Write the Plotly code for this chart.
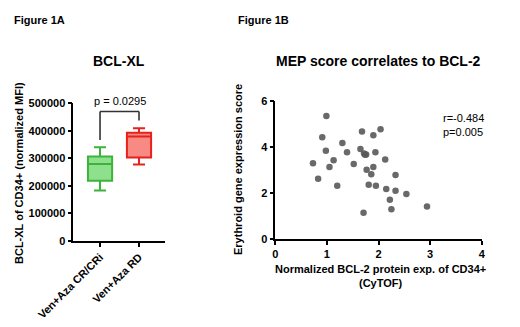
import plotly.graph_objects as go

# ---- Data: Figure 1A (box plot) ----
groups = ["Ven+Aza CR/CRi", "Ven+Aza RD"]
lower_whisker = [183000, 277000]
q1_vals = [218000, 303000]
median_vals = [279000, 379000]
q3_vals = [306000, 393000]
upper_whisker = [340000, 409000]
box_fill = ["#8fe08c", "#f78a82"]
box_line = ["#3cb43c", "#e8211c"]
p_text = "p = 0.0295"

# ---- Data: Figure 1B (scatter) ----
bcl2_x = [0.73, 0.83, 0.91, 0.99, 0.98, 1.05, 1.13, 1.20, 1.30, 1.39, 1.52,
          1.65, 1.68, 1.72, 1.76, 1.77, 1.81, 1.86, 1.71, 1.90, 1.90, 1.94,
          1.95, 2.04, 2.13, 2.15, 2.33, 2.33, 2.22, 2.25, 2.54, 2.94, 1.74]
ery_y = [3.29, 2.62, 4.42, 5.35, 3.84, 3.13, 3.42, 2.32, 4.17, 3.77, 3.26,
         3.91, 4.67, 3.72, 3.67, 3.01, 2.36, 2.81, 1.14, 4.51, 3.13, 3.77,
         2.32, 4.77, 3.46, 2.17, 2.78, 2.10, 1.71, 1.29, 1.96, 1.41, 3.66]
stat_text = "r=-0.484<br>p=0.005"

FONT = "Arial, Liberation Sans, sans-serif"
W, H = 520, 327
OFF = 8  # page body margin offset

def px_x(p):
    return (p - OFF) / W

def px_y(p):
    return 1 - (p - OFF) / H

fig = go.Figure()

for i, g in enumerate(groups):
    fig.add_trace(go.Box(
        x=[g], q1=[q1_vals[i]], median=[median_vals[i]], q3=[q3_vals[i]],
        lowerfence=[lower_whisker[i]], upperfence=[upper_whisker[i]],
        fillcolor=box_fill[i], line=dict(color=box_line[i], width=2),
        width=0.62, whiskerwidth=0.5, boxpoints=False, showlegend=False,
        xaxis="x", yaxis="y", hoverinfo="skip"))

fig.add_trace(go.Scatter(
    x=bcl2_x, y=ery_y, mode="markers",
    marker=dict(size=6.5, color="#595959", opacity=0.9),
    showlegend=False, xaxis="x2", yaxis="y2", hoverinfo="skip"))

axis_common = dict(
    showline=True, linecolor="black", linewidth=1.6, ticks="outside",
    ticklen=4, tickwidth=1.6, tickcolor="black", showgrid=False,
    zeroline=False, automargin=False,
    tickfont=dict(family=FONT, size=11, color="black", weight="bold"))

fig.update_layout(
    width=W, height=H, margin=dict(l=0, r=0, t=0, b=0, autoexpand=False),
    paper_bgcolor="white", plot_bgcolor="white",
    xaxis=dict(axis_common, domain=[px_x(73.3), px_x(165)],
               range=[-0.686, 1.667], type="category", tickangle=-45,
               anchor="y"),
    yaxis=dict(axis_common, domain=[px_y(240.7), px_y(103.3)],
               range=[0, 500000], tickvals=[0, 100000, 200000, 300000, 400000, 500000],
               ticktext=["0", "100000", "200000", "300000", "400000", "500000"],
               anchor="x"),
    xaxis2=dict(axis_common, domain=[px_x(275.3), px_x(481.7)],
                range=[0, 4], dtick=1, anchor="y2"),
    yaxis2=dict(axis_common, domain=[px_y(239), px_y(101)],
                range=[0, 6], dtick=2, anchor="x2"),
)

# significance bracket
bracket = dict(type="line", xref="x", yref="y",
               line=dict(color="#333333", width=1.6))
fig.add_shape(bracket, x0=0, x1=0, y0=366000, y1=470000)
fig.add_shape(bracket, x0=0, x1=1, y0=470000, y1=470000)
fig.add_shape(bracket, x0=1, x1=1, y0=470000, y1=437000)

annots = [
    dict(text=p_text, x=0.5, y=478000, xref="x", yref="y", yanchor="bottom",
         font=dict(size=11, family=FONT, color="black")),
    dict(text="<b>Figure 1A</b>", x=px_x(12), y=px_y(20), xanchor="left",
         font=dict(size=11, family=FONT, color="black")),
    dict(text="<b>Figure 1B</b>", x=px_x(236), y=px_y(20), xanchor="left",
         font=dict(size=11, family=FONT, color="black")),
    dict(text="<b>BCL-XL</b>", x=px_x(119), y=px_y(61),
         font=dict(size=14, family=FONT, color="black")),
    dict(text="<b>MEP score correlates to BCL-2</b>", x=px_x(378), y=px_y(61),
         font=dict(size=14, family=FONT, color="black")),
    dict(text="<b>BCL-XL of CD34+ (normalized MFI)</b>", x=px_x(19), y=px_y(173),
         textangle=-90, font=dict(size=11, family=FONT, color="black")),
    dict(text="<b>Erythroid gene expression score</b>", x=px_x(238), y=px_y(170),
         textangle=-90, font=dict(size=11, family=FONT, color="black")),
    dict(text="<b>Normalized BCL-2 protein exp. of CD34+<br>(CyTOF)</b>",
         x=px_x(380), y=px_y(276),
         font=dict(size=11, family=FONT, color="black")),
    dict(text=stat_text, x=3.22, y=5.62, xref="x2", yref="y2", xanchor="left",
         yanchor="top", align="left",
         font=dict(size=11, family=FONT, color="black")),
]
for a in annots:
    a.setdefault("xref", "paper")
    a.setdefault("yref", "paper")
    a.setdefault("xanchor", "center")
    a.setdefault("yanchor", "middle")
    a.setdefault("showarrow", False)
    fig.add_annotation(**a)

fig.write_html("out.html")
